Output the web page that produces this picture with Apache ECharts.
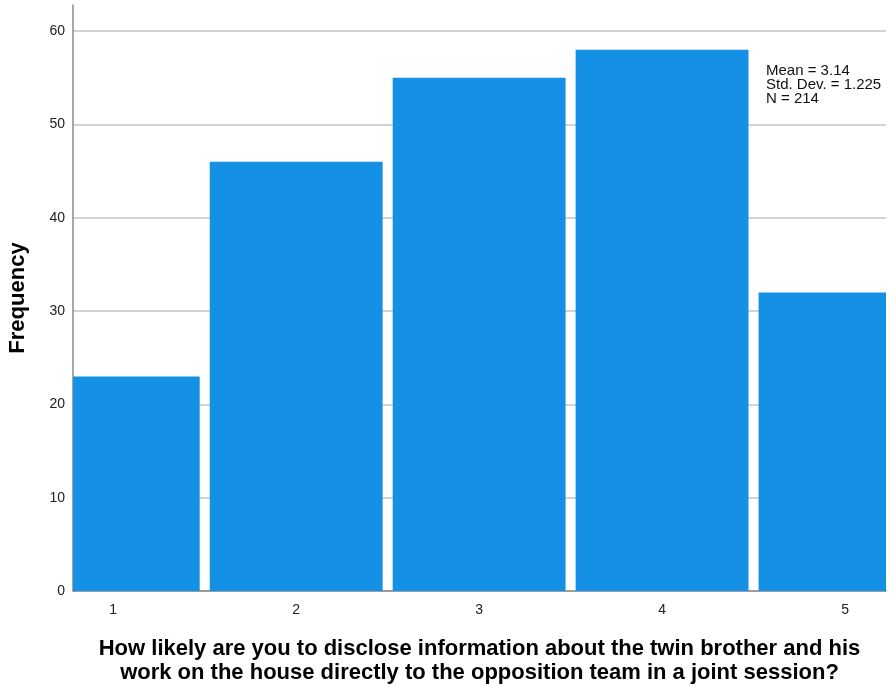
<!DOCTYPE html>
<html>
<head>
<meta charset="utf-8">
<script src="https://cdn.jsdelivr.net/npm/echarts@6/dist/echarts.min.js"></script>
<style>
  html, body { margin: 0; padding: 0; background: #fff; }
  #main { width: 890px; height: 687px; }
</style>
</head>
<body>
<div id="main"></div>
<script>
// histogram values
let categories = [1, 2, 3, 4, 5];
let frequencies = [23, 46, 55, 58, 32];
let yTicks = [0, 10, 20, 30, 40, 50, 60];
let statLines = ['Mean = 3.14', 'Std. Dev. = 1.225', 'N = 214'];

let myChart = echarts.init(document.getElementById('main'));

// bars are 0.945 units wide, clipped at the plot edges
function renderBar(params, api) {
    let x = api.value(0), y = api.value(1);
    let p0 = api.coord([x - 0.4725, y]);
    let p1 = api.coord([x + 0.4725, 0]);
    let rect = echarts.graphic.clipRectByRect(
        { x: p0[0], y: p0[1], width: p1[0] - p0[0], height: p1[1] - p0[1] },
        { x: params.coordSys.x, y: params.coordSys.y, width: params.coordSys.width, height: params.coordSys.height }
    );
    return rect && { type: 'rect', shape: rect, style: { fill: '#1490E5' } };
}

let option = {
    animation: false,
    grid: { left: 73, right: 4, top: 5, bottom: 96, outerBoundsMode: 'none', containLabel: false },
    xAxis: {
        type: 'value',
        min: 0.78,
        max: 5.224,
        name: 'How likely are you to disclose information about the twin brother and his\nwork on the house directly to the opposition team in a joint session?',
        nameLocation: 'middle',
        nameGap: 46,
        nameTextStyle: {
            fontFamily: 'Liberation Sans',
            fontWeight: 'bold',
            fontSize: 22,
            color: '#000',
            lineHeight: 24
        },
        axisLine: { show: true, lineStyle: { color: '#8a8a8a', width: 1.5 } },
        axisTick: { show: false, customValues: categories },
        splitLine: { show: false },
        axisLabel: {
            customValues: categories,
            fontFamily: 'Liberation Sans',
            fontSize: 14,
            color: '#222',
            margin: 12
        }
    },
    yAxis: {
        type: 'value',
        min: 0,
        max: 62.8,
        name: 'Frequency',
        nameLocation: 'middle',
        nameGap: 44,
        nameTextStyle: {
            fontFamily: 'Liberation Sans',
            fontWeight: 'bold',
            fontSize: 22,
            color: '#000'
        },
        axisLine: { show: true, lineStyle: { color: '#8a8a8a', width: 1.5 } },
        axisTick: { show: false, customValues: yTicks },
        splitLine: { show: true, lineStyle: { color: '#c4c4c4', width: 1.5 } },
        axisLabel: {
            customValues: yTicks,
            fontFamily: 'Liberation Sans',
            fontSize: 14,
            color: '#222',
            margin: 8
        }
    },
    graphic: [{
        type: 'text',
        left: 766,
        top: 63,
        style: {
            text: statLines.join('\n'),
            font: '15px Liberation Sans',
            fill: '#111',
            lineHeight: 14
        }
    }],
    series: [{
        type: 'custom',
        renderItem: renderBar,
        z: 1,
        encode: { x: 0, y: 1 },
        data: categories.map((c, i) => [c, frequencies[i]])
    }]
};

myChart.setOption(option);
</script>
</body>
</html>
